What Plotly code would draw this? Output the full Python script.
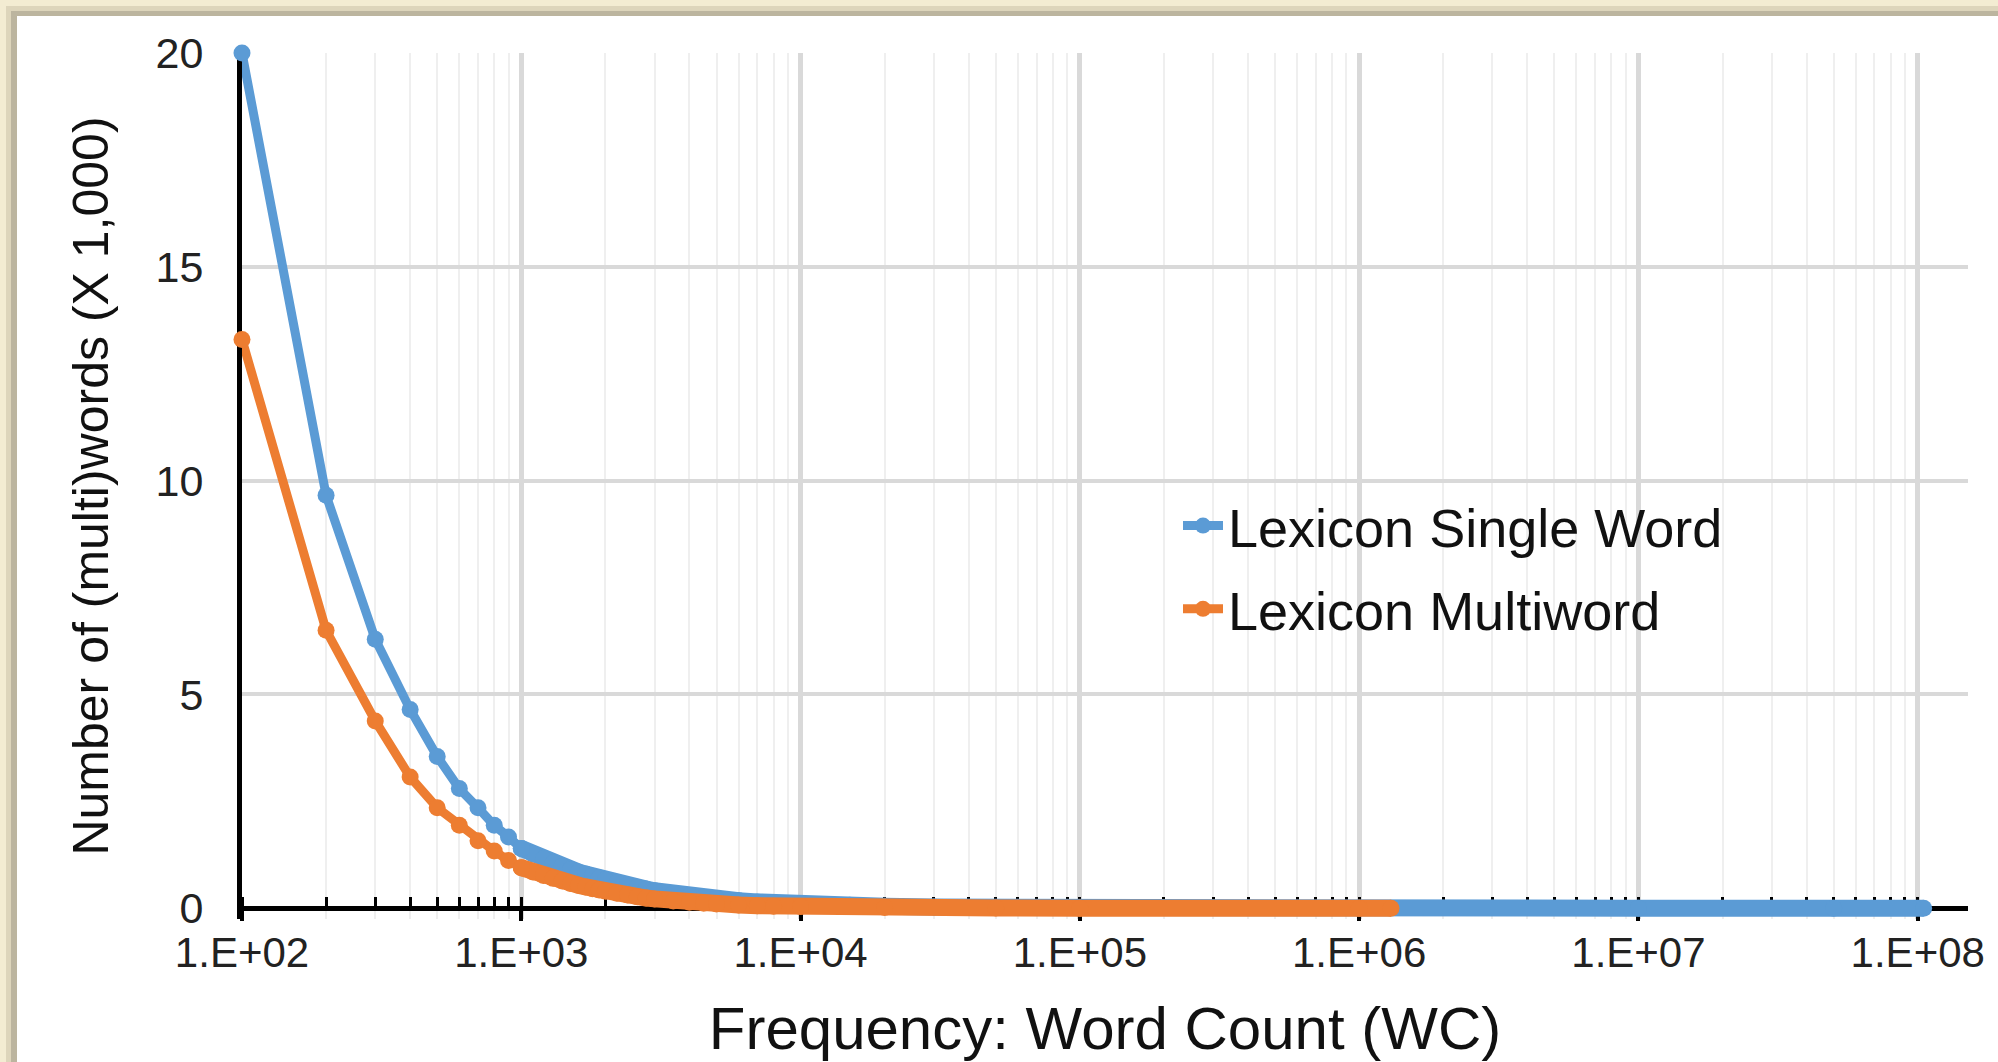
import plotly.graph_objects as go

# ---------------- data ----------------
# Word-count bins (x) and number of (multi)words in thousands (y)
wc_head = [100, 200, 300, 400, 500, 600, 700, 800, 900, 1000]
single_head = [20.0, 9.66, 6.29, 4.65, 3.55, 2.80, 2.35, 1.94, 1.67, 1.40]
multi_head = [13.3, 6.50, 4.38, 3.07, 2.35, 1.94, 1.58, 1.34, 1.12, 0.95]

wc_single_tail = [1000, 1100, 1200, 1300, 1400, 1500, 1600, 1700, 1800, 1900,
                  2000, 2200, 2400, 2600, 2800, 3000, 3500, 4000, 4500, 5000,
                  6000, 7000, 8000, 9000, 1e4, 1.5e4, 2e4, 3e4, 5e4, 1e5,
                  1e6, 1e7, 5e7, 1.05e8]
single_tail = [1.40, 1.27, 1.16, 1.06, 0.98, 0.91, 0.85, 0.80, 0.75, 0.71,
               0.67, 0.60, 0.54, 0.49, 0.45, 0.41, 0.34, 0.29, 0.25, 0.22,
               0.18, 0.15, 0.13, 0.11, 0.10, 0.07, 0.05, 0.03, 0.02, 0.01,
               0.0, 0.0, 0.0, 0.0]

wc_multi_tail = [1000, 1100, 1200, 1300, 1400, 1500, 1600, 1700, 1800, 1900,
                 2000, 2200, 2400, 2600, 2800, 3000, 3500, 4000, 4500, 5000,
                 6000, 7000, 8000, 1e4, 2e4, 5e4, 1e5, 1e6, 1.3e6]
multi_tail = [0.95, 0.85, 0.77, 0.70, 0.64, 0.58, 0.54, 0.50, 0.46, 0.43,
              0.40, 0.35, 0.31, 0.27, 0.24, 0.22, 0.17, 0.14, 0.12, 0.10,
              0.08, 0.06, 0.05, 0.04, 0.02, 0.01, 0.0, 0.0, 0.0]

series_names = ["Lexicon Single Word", "Lexicon Multiword"]
x_tickvals = [1e2, 1e3, 1e4, 1e5, 1e6, 1e7, 1e8]
x_ticktext = ["1.E+02", "1.E+03", "1.E+04", "1.E+05", "1.E+06", "1.E+07", "1.E+08"]
y_tickvals = [0, 5, 10, 15, 20]

# ---------------- style ----------------
BLUE = "#5b9bd5"
ORANGE = "#ed7d31"
FONT = "Liberation Sans, Arial, sans-serif"
W, H = 1998, 1062
Y_MIN, Y_MAX = -0.25, 20
L, R, T, B = 242, 30, 53, 143
PW, PH = W - L - R, H - T - B
X_AXIS_POS = (0 - Y_MIN) / (Y_MAX - Y_MIN)


def px_x(p):
    return (p - L) / PW


def px_y(p):
    return (H - B - p) / PH


fig = go.Figure()

# blue (single word) first, orange drawn on top
for name, wc_h, y_h, wc_t, y_t, col in [
    (series_names[0], wc_head, single_head, wc_single_tail, single_tail, BLUE),
    (series_names[1], wc_head, multi_head, wc_multi_tail, multi_tail, ORANGE),
]:
    fig.add_trace(go.Scatter(
        x=wc_t, y=y_t, mode="lines+markers", showlegend=False,
        line=dict(color=col, width=17), marker=dict(color=col, size=17),
        cliponaxis=False, hoverinfo="skip", legendgroup=name))
    fig.add_trace(go.Scatter(
        x=wc_h, y=y_h, mode="lines+markers", name=name,
        line=dict(color=col, width=9), marker=dict(color=col, size=17),
        cliponaxis=False, legendgroup=name))

# beige frame on top / left edge
frame_bands = [
    (0, 6, "#f3ecd2"), (6, 11, "#ddd5bb"), (11, 16, "#bcb59f"),
]
shapes = []
for a, b, c in frame_bands:
    shapes.append(dict(type="rect", xref="paper", yref="paper",
                       x0=px_x(a), x1=px_x(W), y0=px_y(b), y1=px_y(a),
                       fillcolor=c, line=dict(width=0), layer="above"))
for a, b, c in frame_bands:
    shapes.append(dict(type="rect", xref="paper", yref="paper",
                       x0=px_x(a), x1=px_x(b + 1), y0=px_y(H), y1=px_y(a),
                       fillcolor=c, line=dict(width=0), layer="above"))

fig.update_layout(
    width=W, height=H,
    margin=dict(l=L, r=R, t=T, b=B, autoexpand=False),
    paper_bgcolor="white", plot_bgcolor="white",
    font=dict(family=FONT, color="#222222"),
    shapes=shapes,
    showlegend=True,
    legend=dict(x=px_x(1178), y=px_y(484), xanchor="left", yanchor="top",
                bgcolor="rgba(0,0,0,0)", font=dict(size=54, color="#111111"),
                itemwidth=40),
    xaxis=dict(
        type="log", range=[2, 8.18], anchor="free", position=X_AXIS_POS,
        tickmode="array", tickvals=x_tickvals, ticktext=x_ticktext,
        ticks="outside", ticklen=10, tickwidth=4, tickcolor="black",
        tickfont=dict(size=42, color="#222222"), ticklabelstandoff=-5,
        showline=True, linecolor="black", linewidth=5,
        showgrid=True, gridcolor="#d9d9d9", gridwidth=5,
        zeroline=False, layer="below traces",
        minor=dict(dtick="D1", ticks="inside", ticklen=9, tickwidth=3,
                   tickcolor="black", showgrid=True, gridcolor="#efefef",
                   gridwidth=1.5),
        title=dict(text="Frequency: Word Count (WC)",
                   font=dict(size=60, color="#111111"), standoff=44),
    ),
    xaxis2=dict(
        type="log", range=[2, 8.18], overlaying="x", anchor="free",
        position=X_AXIS_POS, side="bottom",
        tickmode="array", tickvals=x_tickvals, showticklabels=False,
        ticks="inside", ticklen=10, tickwidth=4, tickcolor="black",
        showgrid=False, showline=False, zeroline=False,
    ),
    yaxis=dict(
        range=[Y_MIN, Y_MAX], tickmode="array", tickvals=y_tickvals,
        ticks="", tickfont=dict(size=43, color="#222222"), ticklabelstandoff=25,
        showline=True, linecolor="black", linewidth=5,
        showgrid=True, gridcolor="#d9d9d9", gridwidth=4,
        zeroline=False, layer="below traces",
        title=dict(text="Number of (multi)words (X 1,000)",
                   font=dict(size=50, color="#111111"), standoff=33),
    ),
)

fig.write_html("out.html",
               config={"displayModeBar": False},
               post_script="document.body.style.margin='0';"
                           "document.body.style.overflow='hidden';"
                           "document.documentElement.style.overflow='hidden';")
